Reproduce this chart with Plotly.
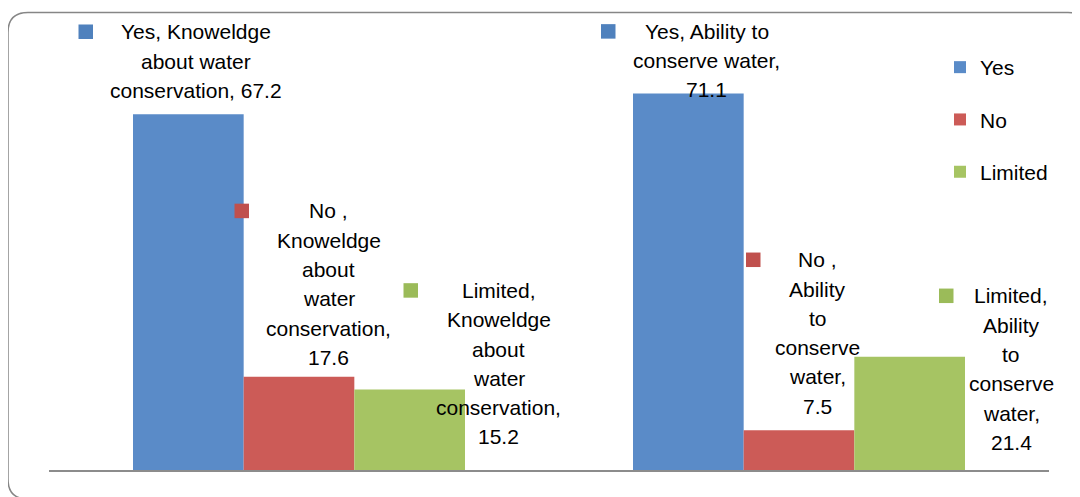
import textwrap
import plotly.graph_objects as go

# ---- data ----
categories = ["Knoweldge about water conservation", "Ability to conserve water"]
series_names = ["Yes", "No ", "Limited"]
legend_names = ["Yes", "No", "Limited"]
yes_values = [67.2, 71.1]
no_values = [17.6, 7.5]
limited_values = [15.2, 21.4]

# ---- styles ----
bar_colors = ["#5A8BC8", "#CC5B57", "#A6C463"]
key_colors = ["#4F81BD", "#C0504D", "#9BBB59"]
wrap_widths = [18, 9, 9]
# label offsets (pixels) per series, per category: text centre dx, first line dy (from bar top), key left dx
text_dx = [[-103, -92.3], [29.5, 18.5], [199.5, 212]]
first_dy = [[-82.5, -62.2], [-165.9, -170.5], [-99.1, -60.9]]
key_dx = [[-220.5, -198], [-64.5, -53], [104.5, 140]]
LINE = 29.3
KEY = 14.5
FONT = "Liberation Sans, Arial, sans-serif"
FS = 21

# page is 1080x497; the html body adds an 8px margin
OFF = 8
W, H = 1080 - OFF, 497 - OFF
ML, MR, MT, MB = 49 - OFF, 31, 20 - OFF, 27
PW, PH = W - ML - MR, H - MT - MB
YMAX = 85

values = [yes_values, no_values, limited_values]

fig = go.Figure()
for s, name in enumerate(legend_names):
    fig.add_trace(go.Bar(
        x=categories, y=values[s], name=name,
        marker=dict(color=bar_colors[s], line=dict(width=0)),
        legendgroup=name,
    ))

annotations = []
shapes = []
for s in range(3):
    for c in range(2):
        v = values[s][c]
        label = f"{series_names[s]}, {categories[c]}, {v}"
        lines = textwrap.wrap(label, width=wrap_widths[s], break_long_words=False)
        for k, ln in enumerate(lines):
            annotations.append(dict(
                x=c, y=v, xref="x", yref="y", text=ln, showarrow=False,
                xanchor="center", yanchor="middle",
                xshift=text_dx[s][c], yshift=-first_dy[s][c] - k * LINE,
                font=dict(family=FONT, size=FS, color="#000000"),
            ))
        up = -first_dy[s][c]
        shapes.append(dict(
            type="rect", xref="x", yref="y",
            xsizemode="pixel", ysizemode="pixel",
            xanchor=c, yanchor=v,
            x0=key_dx[s][c], x1=key_dx[s][c] + KEY,
            y0=up - KEY / 2, y1=up + KEY / 2,
            fillcolor=key_colors[s], line=dict(width=0),
        ))

# rounded outer border (page pixel -> paper)
def px(xp):
    return (xp - OFF - ML) / PW

def py(yp):
    return (H - MB - (yp - OFF)) / PH

x0, y0, x1, y1, r = 8, 12.5, 1088, 499, 20
path = (
    f"M {px(x0 + r)} {py(y0)} L {px(x1 - r)} {py(y0)} "
    f"Q {px(x1)} {py(y0)} {px(x1)} {py(y0 + r)} "
    f"L {px(x1)} {py(y1 - r)} Q {px(x1)} {py(y1)} {px(x1 - r)} {py(y1)} "
    f"L {px(x0 + r)} {py(y1)} Q {px(x0)} {py(y1)} {px(x0)} {py(y1 - r)} "
    f"L {px(x0)} {py(y0 + r)} Q {px(x0)} {py(y0)} {px(x0 + r)} {py(y0)} Z"
)
shapes.append(dict(type="path", xref="paper", yref="paper", path=path,
                   line=dict(color="#868686", width=1.5), layer="below"))

fig.update_layout(
    width=W, height=H,
    margin=dict(l=ML, r=MR, t=MT, b=MB),
    paper_bgcolor="white", plot_bgcolor="white",
    barmode="group", bargap=0.336, bargroupgap=0,
    showlegend=True,
    legend=dict(
        x=px(940), y=py(47), xanchor="left", yanchor="top",
        font=dict(family=FONT, size=FS, color="#000000"),
        tracegroupgap=22, bgcolor="rgba(0,0,0,0)", borderwidth=0,
    ),
    xaxis=dict(range=[-0.5, 1.5], showline=True, linecolor="#8C8C8C", linewidth=2,
               showticklabels=False, ticks="", showgrid=False, zeroline=False,
               fixedrange=True),
    yaxis=dict(range=[0, YMAX], showticklabels=False, ticks="", showgrid=False,
               zeroline=False, showline=False, fixedrange=True),
    annotations=annotations,
    shapes=shapes,
)

fig.write_html("out.html")
